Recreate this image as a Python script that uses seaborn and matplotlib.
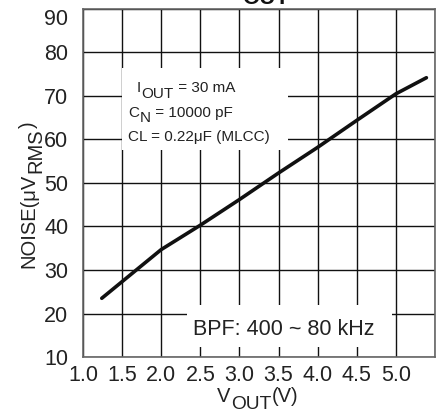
import matplotlib
matplotlib.use("Agg")
import matplotlib.pyplot as plt
import matplotlib.patches as mpatches
import seaborn as sns
import pandas as pd

vout = [1.24, 2.0, 2.5, 3.0, 3.5, 4.0, 4.5, 5.0, 5.39]
noise = [23.5, 34.7, 40.3, 46.2, 52.3, 58.2, 64.4, 70.5, 74.2]
x_ticks = [1.0, 1.5, 2.0, 2.5, 3.0, 3.5, 4.0, 4.5, 5.0]
y_ticks = [10, 20, 30, 40, 50, 60, 70, 80, 90]

sns.set_theme(style="white")
plt.rcParams['font.family'] = ['Liberation Sans', 'DejaVu Sans']
TXT = '#222222'

W, H = 442, 413
fig = plt.figure(figsize=(W / 100, H / 100), dpi=100)
ax = fig.add_axes([83 / W, 1 - 357 / H, (435 - 83) / W, (357 - 9) / H])

df = pd.DataFrame({"VOUT": vout, "NOISE": noise})
sns.lineplot(data=df, x="VOUT", y="NOISE", ax=ax, color="#111111", linewidth=2.6, zorder=5)

ax.set_xlim(1.0, 5.5)
ax.set_ylim(10, 90)
ax.set_xticks(x_ticks + [5.5])
ax.set_xticklabels([f"{v:.1f}" for v in x_ticks] + [""])
ax.set_yticks(y_ticks)
ax.set_yticklabels([str(v) for v in y_ticks])
ax.tick_params(axis='x', length=0, labelsize=15.5, colors=TXT, pad=5.5)
ax.tick_params(axis='y', length=0, labelsize=15.5, colors=TXT, pad=10.5)
ax.get_yticklabels()[-1].set_va('top')
ax.grid(True, color='#111111', linewidth=1.0)
for s in ax.spines.values():
    s.set_color('#666666')
    s.set_linewidth(1.2)
ax.set_xlabel("")
ax.set_ylabel("")


def rich_h(x, y, pieces, fs, transform, color=TXT, z=7):
    """pieces: list of (text, dy_points, size_factor); chained left to right on a baseline."""
    prev = ax.text(x, y, pieces[0][0], fontsize=fs * pieces[0][2], transform=transform,
                   va='baseline', ha='left', color=color, zorder=z, clip_on=False)
    for txt, dy, sf in pieces[1:]:
        prev = ax.annotate(txt, xy=(1, y), xycoords=(prev, transform), xytext=(0.3, dy),
                           textcoords='offset points', fontsize=fs * sf, va='baseline',
                           ha='left', color=color, zorder=z, annotation_clip=False)
    return prev


def rich_v(x, y, pieces, fs, color=TXT):
    """vertical (rotated 90) label built bottom to top in figure fractions; dx in points."""
    tr = fig.transFigure
    prev = ax.text(x, y, pieces[0][0], fontsize=fs * pieces[0][2], transform=tr, rotation=90,
                   va='bottom', ha='right', color=color, clip_on=False)
    for txt, dx, sf in pieces[1:]:
        prev = ax.annotate(txt, xy=(x, 1), xycoords=(tr, prev), xytext=(dx, 0.3),
                           textcoords='offset points', fontsize=fs * sf, rotation=90,
                           va='bottom', ha='right', color=color, annotation_clip=False)
    return prev


# axis labels
rich_h(217 / W, 1 - 402 / H, [("V", 0, 1.0), ("OUT", -5.0, 0.95), ("(V)", 0, 1.0)], 14.5, fig.transFigure)
rich_v(38 / W, 1 - 268 / H, [("NOISE(\u03bcV", 0, 1.0), ("RMS", 5.5, 1.0), (")", 0, 1.0)], 14.5)

# condition box
ax.add_patch(mpatches.Rectangle((1.5, 57.6), 2.12, 18.8, facecolor='white', edgecolor='none', zorder=3))
rich_h(1.68, 70.9, [("I", 0, 1.0), ("OUT", -4.0, 1.0), (" = 30 mA", 0, 1.0)], 11, ax.transData)
rich_h(1.58, 65.2, [("C", 0, 1.0), ("N", -4.0, 1.0), (" = 10000 pF", 0, 1.0)], 11, ax.transData)
rich_h(1.58, 59.7, [("CL = 0.22\u03bcF (MLCC)", 0, 1.0)], 11, ax.transData)

# filter box
ax.add_patch(mpatches.Rectangle((2.33, 12.3), 2.62, 9.7, facecolor='white', edgecolor='none', zorder=3))
rich_h(2.41, 15.06, [("BPF: 400 ~ 80 kHz", 0, 1.0)], 15.5, ax.transData)

# clipped chart title (only its lower edge is visible in the source)
fig.text(242 / W, 1 - 4 / H, "OUT", fontsize=16, fontweight='bold', ha='left', va='baseline', color='#111111')

fig.savefig("out.png", dpi=100)
